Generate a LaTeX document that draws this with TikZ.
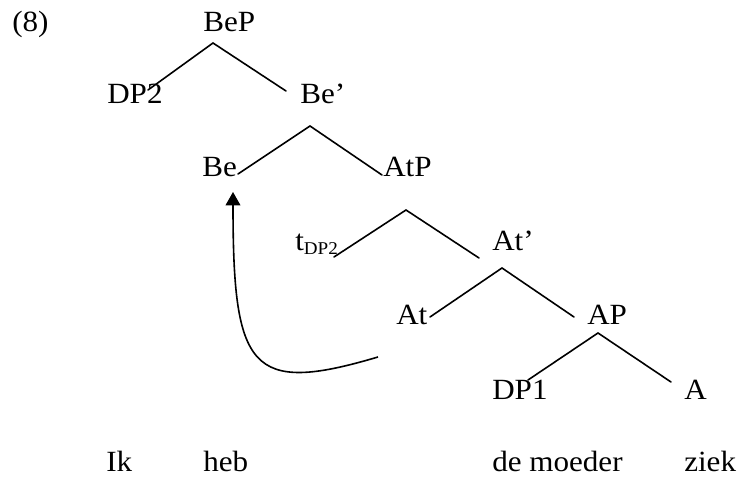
\documentclass[tikz,border=0pt]{standalone}
\usepackage{fontspec}
\setmainfont{Liberation Serif}[FakeStretch=1.06]
\usetikzlibrary{arrows.meta}
\begin{document}
\begin{tikzpicture}[x=0.75pt,y=-0.75pt,
  lbl/.style={anchor=base west,inner sep=0pt,font=\fontsize{22}{26}\selectfont},
  branch/.style={line width=1.2pt,line cap=round},
  move/.style={line width=1.2pt,-{Triangle[length=10pt,width=11pt]}}]
\useasboundingbox (0,0) rectangle (740,477);
% labels
\node[lbl] (ex)   at (12,32)  {(8)};
\node[lbl] (BeP)  at (203,32) {BeP};
\node[lbl] (DP2)  at (107,104) {DP2};
\node[lbl] (Bebar) at (300,104) {Be’};
\node[lbl] (Be)   at (202,177) {Be};
\node[lbl] (AtP)  at (383,177) {AtP};
\node[lbl] (t)    at (295,251) {t\raisebox{-3pt}{\fontsize{13.5}{15}\selectfont DP2}};
\node[lbl] (Atbar) at (492,251) {At’};
\node[lbl] (At)   at (396,325) {At};
\node[lbl] (AP)   at (587,325) {AP};
\node[lbl] (DP1)  at (492,400) {DP1};
\node[lbl] (A)    at (684,400) {A};
\node[lbl] (w1)   at (106,472) {Ik};
\node[lbl] (w2)   at (203,472) {heb};
\node[lbl] (w3)   at (492,472) {de moeder};
\node[lbl] (w4)   at (684,472) {ziek};
% branch points
\coordinate (a1) at (213,43);  \coordinate (l1) at (148,90);  \coordinate (r1) at (286,91);
\coordinate (a2) at (310,126); \coordinate (l2) at (238,174); \coordinate (r2) at (382,175);
\coordinate (a3) at (406,210); \coordinate (l3) at (334,257); \coordinate (r3) at (479,258);
\coordinate (a4) at (502,268); \coordinate (l4) at (430,317); \coordinate (r4) at (574,317);
\coordinate (a5) at (598,333); \coordinate (l5) at (528,380); \coordinate (r5) at (671,382);
\draw[branch] (l1) -- (a1) -- (r1);
\draw[branch] (l2) -- (a2) -- (r2);
\draw[branch] (l3) -- (a3) -- (r3);
\draw[branch] (l4) -- (a4) -- (r4);
\draw[branch] (l5) -- (a5) -- (r5);
% movement arrow
\coordinate (mvfrom) at (378,357);
\coordinate (mvto) at (233,192);
\draw[move] (mvfrom) .. controls (250,395) and (233,370) .. (mvto);
\end{tikzpicture}
\end{document}
